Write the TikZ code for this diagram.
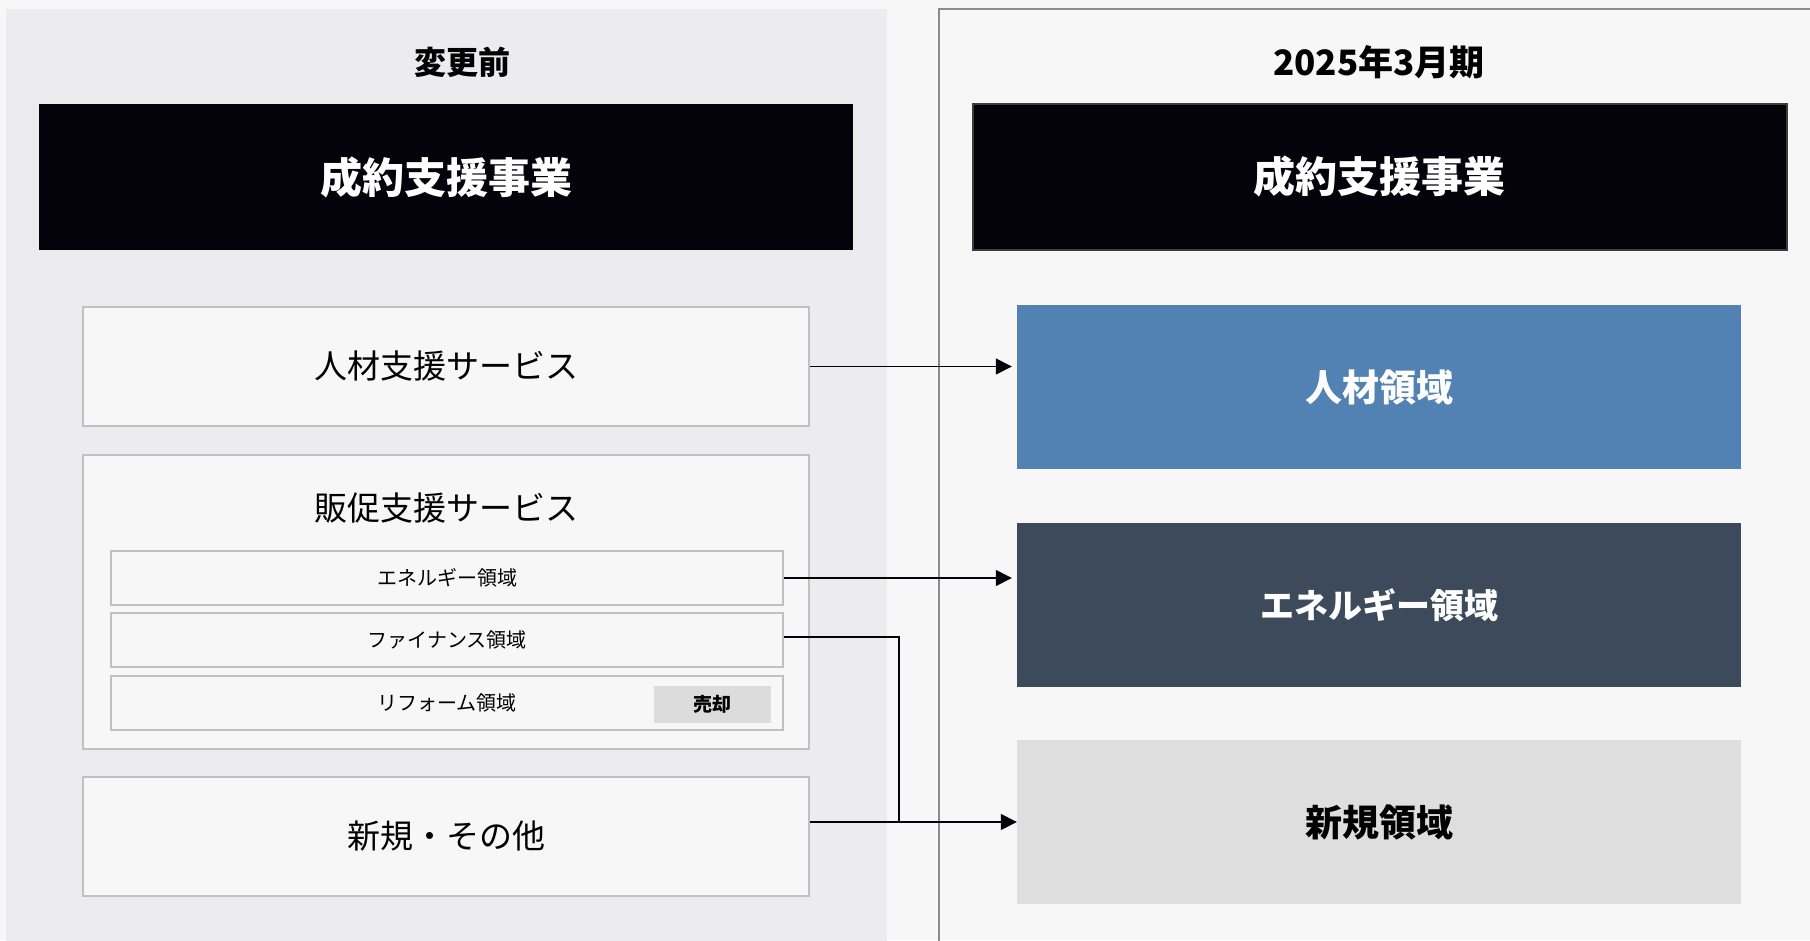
\documentclass[tikz,border=0pt]{standalone}
\usepackage{fontspec}
\setmainfont{Noto Sans CJK JP}
\usetikzlibrary{arrows.meta}
\definecolor{pagebg}{HTML}{F7F7F7}
\definecolor{leftbg}{HTML}{ECECEE}
\definecolor{boxline}{HTML}{C0C0C0}
\definecolor{panelline}{HTML}{8C8C8C}
\definecolor{blk}{HTML}{04020A}
\definecolor{blkline}{HTML}{3C3C3C}
\definecolor{jinblue}{HTML}{5182B3}
\definecolor{eneslate}{HTML}{3D4A5C}
\definecolor{newgray}{HTML}{DEDEDE}
\definecolor{salegray}{HTML}{DCDCDC}
\newcommand{\fs}[1]{\fontsize{#1}{#1}\selectfont}
\tikzset{
  x=1pt, y=-1pt,
  title/.style={font=\fs{32}\bfseries, text=black, inner sep=0},
  blackbox/.style={fill=blk, text=white, font=\fs{42}\bfseries, minimum width=814pt, minimum height=146pt, inner sep=0},
  svcbox/.style={fill=pagebg, draw=boxline, line width=2pt, minimum width=726pt, minimum height=119pt, inner sep=0, font=\fs{33}},
  subbox/.style={fill=pagebg, draw=boxline, line width=2pt, minimum width=672pt, minimum height=54pt, inner sep=0, font=\fs{20}},
  segbox/.style={minimum width=724pt, minimum height=164pt, inner sep=0, font=\fs{37}\bfseries},
  conn/.style={draw=blk, line width=1.5pt},
  tip/.style={-{Triangle[length=16pt,width=16pt]}}
}
\begin{document}
\begin{tikzpicture}
\useasboundingbox (0,0) rectangle (1810,940);
\clip (0,0) rectangle (1810,940);
\fill[pagebg] (0,0) rectangle (1810,940);
% panels
\fill[leftbg] (6,9) rectangle (887,960);
\draw[panelline, line width=2pt] (939,960) -- (939,9) -- (1830,9);
% titles
\node[title] (tl) at (462,62) {変更前};
\node[title, font=\fs{35}\bfseries] (tr) at (1379,62) {2025年3月期};
% black boxes
\node[blackbox] (bl) at (446,177) {成約支援事業};
\node[blackbox, draw=blkline, line width=2pt] (br) at (1379.5,176.5) {成約支援事業};
% left boxes
\node[svcbox] (jinS) at (446,366.5) {人材支援サービス};
\node[svcbox, minimum height=294pt] (han) at (446,602) {};
\node[font=\fs{33}, inner sep=0] (hanT) at (446,508) {販促支援サービス};
\node[subbox] (ene) at (447,578) {エネルギー領域};
\node[subbox] (fin) at (447,640) {ファイナンス領域};
\node[subbox] (ref) at (447,702.5) {リフォーム領域};
\node[fill=salegray, minimum width=117pt, minimum height=37pt, inner sep=0, font=\fs{19}\bfseries] (sale) at (712.5,704.5) {売却};
\node[svcbox] (newS) at (446,836.5) {新規・その他};
% right boxes
\node[segbox, fill=jinblue, text=white] (jinR) at (1379,387) {人材領域};
\node[segbox, fill=eneslate, text=white, font=\fs{34}\bfseries] (eneR) at (1379,605) {エネルギー領域};
\node[segbox, fill=newgray, text=black] (newR) at (1379,822) {新規領域};
% connectors
\draw[conn, tip, shorten >=5pt] (jinS.east) -- (jinS.east -| jinR.west);
\draw[conn, tip, shorten >=5pt] (ene.east) -- (ene.east -| eneR.west);
\coordinate (fincorner) at (899,637);
\draw[conn] (fin.east |- fincorner) -- (fincorner) -- (fincorner |- newR.west);
\draw[conn, tip] (newS.east |- newR.west) -- (newR.west);
\end{tikzpicture}
\end{document}
